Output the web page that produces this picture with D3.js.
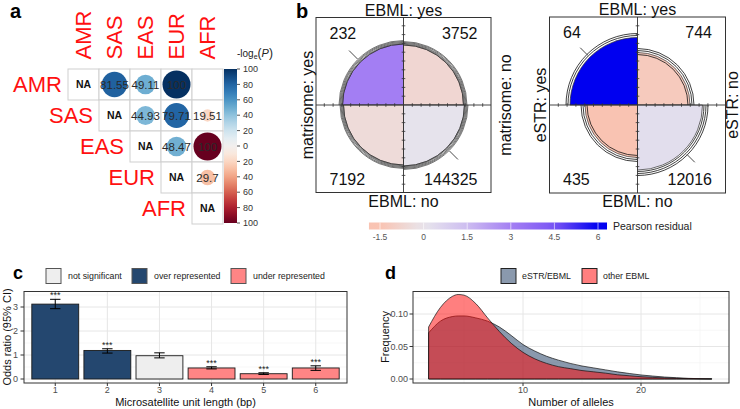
<!DOCTYPE html>
<html><head><meta charset="utf-8">
<script src="https://cdn.jsdelivr.net/npm/d3@7"></script>
<style>body{margin:0;background:#fff}svg{display:block;font-family:"Liberation Sans",Arial,sans-serif}</style>
</head><body><svg id="chart" width="740" height="409"></svg>
<script>
// ================= DATA =================
// panel a
const popLabels = ["AMR","SAS","EAS","EUR","AFR"];
const pairRow   = ["AMR","AMR","AMR","AMR","SAS","SAS","SAS","EAS","EAS","EUR"];
const pairCol   = ["SAS","EAS","EUR","AFR","EAS","EUR","AFR","EUR","AFR","AFR"];
const pairValue = [81.55, 49.11, 100, null, 44.93, 79.71, -19.51, 48.47, -100, -29.7]; // signed -log_e(P)
const corrTickValues = [100,80,60,40,20,0,-20,-40,-60,-80,-100];

// panel b (quadrant order: top-left, top-right, bottom-left, bottom-right)
const matrisomeCounts = [232, 3752, 7192, 144325];
const estrCounts      = [64, 744, 435, 12016];
const matrisomeStd    = [0.48, 0.465, 0.465, 0.48];
const estrStd         = [0.588, 0.356, 0.356, 0.546];
const matrisomeConf   = [[0.48,0.537],[0.465,0.52],[0.465,0.52],[0.48,0.537]];
const estrConf        = [[0.624,0.66],[0.329,0.384,0.412],[0.329,0.384,0.412],[0.571,0.606,0.642]];
const residualTicks   = [-1.5, 0, 1.5, 3, 4.5, 6];
const residualLegendLimits = [-1.88, 6.31];

// panel c
const unitLength = [1,2,3,4,5,6];
const oddsRatio  = [3.12, 1.19, 0.97, 0.46, 0.22, 0.46];
const ciLow      = [2.93, 1.08, 0.88, 0.42, 0.19, 0.36];
const ciHigh     = [3.32, 1.26, 1.09, 0.51, 0.26, 0.55];
const repStatus  = ["over represented","over represented","not significant","under represented","under represented","under represented"];
const sigStars   = ["***","***","","***","***","***"];
const statusLevels = ["not significant","over represented","under represented"];
const orTicks = [0,1,2,3];

// panel d
const alleleN   = [2,3,4,4.5,5,6,7,8,9,10,11,12,13,14,15,16,17,18,19,20,21,22,23,24,25,26];
const densEstr  = [0.071,0.089,0.096,0.097,0.097,0.094,0.089,0.080,0.067,0.053,0.043,0.035,0.029,0.024,0.020,0.017,0.014,0.011,0.0085,0.0062,0.0045,0.003,0.002,0.001,0.0005,0.0002];
const densOther = [0.080,0.110,0.127,0.130,0.129,0.116,0.094,0.073,0.055,0.041,0.031,0.024,0.019,0.016,0.013,0.011,0.009,0.0065,0.005,0.0035,0.0025,0.0017,0.001,0.0006,0.0003,0.0001];
const densSeries = ["eSTR/EBML","other EBML"];
const freqTicks = [0, 0.05, 0.10];
const alleleTicks = [10, 20];

// ================= DRAW =================
const svg = d3.select("#chart");
const TXT = "#222";

// panel letters
[["a",10,17.5,20],["b",296,17.5,20],["c",13,278.5,18],["d",385,278.5,18]].forEach(([t,x,y,s])=>{
  svg.append("text").attr("x",x).attr("y",y).attr("font-size",s).attr("font-weight","bold").attr("fill","#000").text(t);
});

// ---------- panel a ----------
(function(){
  const g = svg.append("g");
  const xA = d3.scaleBand().domain(popLabels).range([68, 223]);
  const yA = d3.scaleBand().domain(popLabels).range([69, 224]);
  const bw = xA.bandwidth();
  const col = v => d3.interpolateRdBu((v + 100) / 200);
  const rA = d3.scaleSqrt().domain([0, 100]).range([0, bw/2 - 1.5]);

  popLabels.forEach((rl, i) => popLabels.forEach((cl, j) => {
    if (j < i) return;
    g.append("rect").attr("x", xA(cl)).attr("y", yA(rl)).attr("width", bw).attr("height", bw)
      .attr("fill", "#fff").attr("stroke", "#cfcfcf").attr("stroke-width", 1);
    if (i === j) g.append("text").attr("x", xA(cl)+bw/2).attr("y", yA(rl)+bw/2).attr("dy","0.35em")
      .attr("text-anchor","middle").attr("font-size",10.5).attr("font-weight","bold").attr("fill","#111").text("NA");
  }));
  pairValue.forEach((v, k) => {
    if (v === null) return;
    const cx = xA(pairCol[k]) + bw/2, cy = yA(pairRow[k]) + bw/2;
    g.append("circle").attr("cx", cx).attr("cy", cy).attr("r", rA(Math.abs(v))).attr("fill", col(v));
    g.append("text").attr("x", cx).attr("y", cy).attr("dy","0.35em").attr("text-anchor","middle")
      .attr("font-size",11.5).attr("fill","#2a2a2a").text(String(Math.abs(v)));
  });
  popLabels.forEach(l => {
    g.append("text").attr("x", xA(l) - 6).attr("y", yA(l) + bw/2).attr("dy","0.35em").attr("text-anchor","end")
      .attr("font-size",22).attr("fill","#ff1010").text(l);
    g.append("text").attr("transform", `translate(${xA(l)+bw/2},59.5) rotate(-90)`).attr("dy","0.35em")
      .attr("font-size",22).attr("fill","#ff1010").text(l);
  });
  // colour bar
  const yCB = d3.scaleLinear().domain([100, -100]).range([69, 223]);
  const grad = svg.append("defs").append("linearGradient").attr("id","gradA").attr("x1",0).attr("y1",0).attr("x2",0).attr("y2",1);
  d3.range(0, 1.0001, 0.05).forEach(t => grad.append("stop").attr("offset", t).attr("stop-color", col(100 - 200*t)));
  g.append("rect").attr("x",224).attr("y",yCB(100)).attr("width",13).attr("height",yCB(-100)-yCB(100)).attr("fill","url(#gradA)");
  corrTickValues.forEach(v => {
    g.append("line").attr("x1",237).attr("x2",240).attr("y1",yCB(v)).attr("y2",yCB(v)).attr("stroke","#555");
    g.append("text").attr("x",243).attr("y",yCB(v)).attr("dy","0.35em").attr("font-size",9).attr("fill","#333").text(Math.abs(v));
  });
  const t = g.append("text").attr("x",237).attr("y",57).attr("font-size",10).attr("fill",TXT);
  t.append("tspan").text("-log");
  t.append("tspan").attr("font-size",7).attr("dy",2).text("e");
  t.append("tspan").attr("dy",-2).attr("font-size",12).text("(");
  t.append("tspan").attr("font-style","italic").attr("font-size",11).text("P");
  t.append("tspan").attr("font-size",12).text(")");
})();

// ---------- panel b ----------
const resDomain = [-1.5, 0, 1.5, 3, 4.5, 6];
const resColor = d3.scaleLinear().domain(resDomain)
  .range(["#f9c3b2","#e8e6ec","#cdbdf0","#a47ff3","#7a55f4","#0000f0"]).clamp(true);

function pearsonResiduals(c){
  const [a,b,cc,d] = c, n = a+b+cc+d;
  const rows = [a+b, cc+d], cols = [a+cc, b+d];
  const obs = [[a,b],[cc,d]];
  const out = [];
  [0,1].forEach(i => [0,1].forEach(j => { const e = rows[i]*cols[j]/n; out.push((obs[i][j]-e)/Math.sqrt(e)); }));
  return out;
}
function arcLine(r, a0, a1){ const p = d3.path(); p.arc(0,0,r,a0-Math.PI/2,a1-Math.PI/2); return p.toString(); }

function drawFourfold(cx, cy, half, counts, std, conf, banded, top, bottom, left, right, rightOff, diag){
  const g = svg.append("g");
  const gc = g.append("g").attr("transform", `translate(${cx},${cy})`);
  const rS = d3.scaleSqrt().domain([0,1]).range([0, 88]);
  const res = pearsonResiduals(counts);
  const ang = [[-Math.PI/2,0],[0,Math.PI/2],[Math.PI,1.5*Math.PI],[Math.PI/2,Math.PI]];
  counts.forEach((c,i) => {
    gc.append("path").attr("d", d3.arc()({innerRadius:0, outerRadius:rS(std[i]), startAngle:ang[i][0], endAngle:ang[i][1]}))
      .attr("fill", resColor(res[i])).attr("stroke","#333").attr("stroke-width",0.7);
  });
  conf.forEach((rr,i) => {
    if (banded){
      const lo = rS(rr[0]), hi = rS(rr[1]);
      d3.range(0,5).forEach(k => gc.append("path").attr("d", arcLine(lo + (hi-lo)*k/4, ang[i][0], ang[i][1]))
        .attr("fill","none").attr("stroke","#2e2e2e").attr("stroke-width",0.65));
    } else {
      rr.forEach(v => gc.append("path").attr("d", arcLine(rS(v), ang[i][0], ang[i][1]))
        .attr("fill","none").attr("stroke","#111").attr("stroke-width",0.8));
    }
  });
  // axes with ticks
  gc.append("line").attr("x1",-half).attr("x2",half).attr("y1",0).attr("y2",0).attr("stroke","#333").attr("stroke-width",0.9);
  gc.append("line").attr("y1",-half).attr("y2",half).attr("x1",0).attr("x2",0).attr("stroke","#333").attr("stroke-width",0.9);
  d3.range(1,10).forEach(k => {
    const d = k*8.8;
    [-d, d].forEach(p => {
      gc.append("line").attr("x1",p).attr("x2",p).attr("y1",-1.8).attr("y2",1.8).attr("stroke","#333").attr("stroke-width",0.8);
      gc.append("line").attr("y1",p).attr("y2",p).attr("x1",-1.8).attr("x2",1.8).attr("stroke","#333").attr("stroke-width",0.8);
    });
  });
  // diagonal marks
  [-1, 1].forEach(s => {
    const c = Math.SQRT1_2*s;
    gc.append("line").attr("x1",c*diag[0]).attr("y1",c*diag[0]).attr("x2",c*diag[1]).attr("y2",c*diag[1]).attr("stroke","#333").attr("stroke-width",0.9);
  });
  g.append("rect").attr("x",cx-half).attr("y",cy-half).attr("width",2*half).attr("height",2*half)
    .attr("fill","none").attr("stroke","#333").attr("stroke-width",1);
  const fs = 16;
  g.append("text").attr("x",cx-half+13.5).attr("y",cy-half+21).attr("font-size",fs).attr("fill","#111").text(counts[0]);
  g.append("text").attr("x",cx+half-13.5).attr("y",cy-half+21).attr("text-anchor","end").attr("font-size",fs).attr("fill","#111").text(counts[1]);
  g.append("text").attr("x",cx-half+13.5).attr("y",cy+half-8).attr("font-size",fs).attr("fill","#111").text(counts[2]);
  g.append("text").attr("x",cx+half-13.5).attr("y",cy+half-8).attr("text-anchor","end").attr("font-size",fs).attr("fill","#111").text(counts[3]);
  g.append("text").attr("x",cx).attr("y",cy-half-2).attr("text-anchor","middle").attr("font-size",fs).attr("fill","#111").text(top);
  g.append("text").attr("x",cx).attr("y",cy+half+14).attr("text-anchor","middle").attr("font-size",fs).attr("fill","#111").text(bottom);
  g.append("text").attr("transform",`translate(${cx-half-3.5},${cy}) rotate(-90)`).attr("text-anchor","middle").attr("font-size",fs).attr("fill","#111").text(left);
  g.append("text").attr("transform",`translate(${cx+half+rightOff},${cy}) rotate(-90)`).attr("text-anchor","middle").attr("font-size",fs).attr("fill","#111").text(right);
}
drawFourfold(403.5, 105, 87.5, matrisomeCounts, matrisomeStd, matrisomeConf, true,
  "EBML: yes","EBML: no","matrisome: yes","matrisome: no", 19.5, [65, 77]);
drawFourfold(637.5, 105, 88, estrCounts, estrStd, estrConf, false,
  "EBML: yes","EBML: no","eSTR: yes","eSTR: no", 12, [70, 81]);

// residual colour bar
(function(){
  const g = svg.append("g");
  const xR = d3.scaleLinear().domain([-1.5, 6]).range([380, 598]);
  const x0 = xR(residualLegendLimits[0]), x1 = xR(residualLegendLimits[1]);
  const grad = svg.select("defs").append("linearGradient").attr("id","gradR").attr("x1",0).attr("y1",0).attr("x2",1).attr("y2",0);
  d3.range(0,1.0001,0.05).forEach(t => {
    const v = residualLegendLimits[0] + t*(residualLegendLimits[1]-residualLegendLimits[0]);
    grad.append("stop").attr("offset",t).attr("stop-color",resColor(v));
  });
  g.append("rect").attr("x",x0).attr("y",222.5).attr("width",x1-x0).attr("height",7).attr("fill","url(#gradR)");
  residualTicks.forEach(v => {
    g.append("line").attr("x1",xR(v)).attr("x2",xR(v)).attr("y1",222.5).attr("y2",229.5).attr("stroke","#fff").attr("stroke-opacity",0.6);
    g.append("text").attr("x",xR(v)).attr("y",240).attr("text-anchor","middle").attr("font-size",8.5).attr("fill","#555").text(v);
  });
  g.append("text").attr("x",613).attr("y",229.5).attr("font-size",10.5).attr("fill",TXT).text("Pearson residual");
})();

// ---------- panel c ----------
(function(){
  const g = svg.append("g");
  const statusFill = d3.scaleOrdinal().domain(statusLevels).range(["#eeeeee","#24476f","#ff8585"]);
  const x = d3.scaleLinear().domain([0.4, 6.6]).range([24, 347]);
  const y = d3.scaleLinear().domain([0, 3]).range([379, 307]);
  const top = 291.5, bot = 383;
  const step = x(2) - x(1);
  // grid
  d3.range(0.5, 4, 1).forEach(v => g.append("line").attr("x1",24).attr("x2",347).attr("y1",y(v)).attr("y2",y(v)).attr("stroke","#f2f2f2").attr("stroke-width",0.6));
  orTicks.forEach(v => g.append("line").attr("x1",24).attr("x2",347).attr("y1",y(v)).attr("y2",y(v)).attr("stroke","#e6e6e6").attr("stroke-width",1));
  unitLength.forEach(v => g.append("line").attr("x1",x(v)).attr("x2",x(v)).attr("y1",top).attr("y2",bot).attr("stroke","#e6e6e6").attr("stroke-width",1));
  // bars
  unitLength.forEach((u,i) => {
    g.append("rect").attr("x",x(u)-0.45*step).attr("width",0.9*step).attr("y",y(oddsRatio[i])).attr("height",y(0)-y(oddsRatio[i]))
      .attr("fill",statusFill(repStatus[i])).attr("stroke","#1a1a1a").attr("stroke-width",0.9);
    const cw = 0.1*step;
    g.append("line").attr("x1",x(u)).attr("x2",x(u)).attr("y1",y(ciLow[i])).attr("y2",y(ciHigh[i])).attr("stroke","#000").attr("stroke-width",1);
    [ciLow[i], ciHigh[i]].forEach(v => g.append("line").attr("x1",x(u)-cw).attr("x2",x(u)+cw).attr("y1",y(v)).attr("y2",y(v)).attr("stroke","#000").attr("stroke-width",1));
    if (sigStars[i]) g.append("text").attr("x",x(u)).attr("y",y(ciHigh[i])-1).attr("text-anchor","middle").attr("font-size",9).attr("fill","#222").text(sigStars[i]);
  });
  g.append("rect").attr("x",24).attr("y",top).attr("width",323).attr("height",bot-top).attr("fill","none").attr("stroke","#333").attr("stroke-width",1);
  orTicks.forEach(v => {
    g.append("line").attr("x1",20.5).attr("x2",24).attr("y1",y(v)).attr("y2",y(v)).attr("stroke","#333");
    g.append("text").attr("x",18).attr("y",y(v)).attr("dy","0.35em").attr("text-anchor","end").attr("font-size",9).attr("fill","#4d4d4d").text(v);
  });
  unitLength.forEach(v => {
    g.append("line").attr("x1",x(v)).attr("x2",x(v)).attr("y1",bot).attr("y2",bot+3).attr("stroke","#333");
    g.append("text").attr("x",x(v)).attr("y",393).attr("text-anchor","middle").attr("font-size",9).attr("fill","#4d4d4d").text(v);
  });
  g.append("text").attr("x",185.5).attr("y",405.5).attr("text-anchor","middle").attr("font-size",11).attr("fill","#111").text("Microsatellite unit length (bp)");
  g.append("text").attr("transform","translate(10.5,337) rotate(-90)").attr("text-anchor","middle").attr("font-size",11).attr("fill","#111").text("Odds ratio (95% CI)");
  // legend
  const lx = [46, 132, 231];
  statusLevels.forEach((s,i) => {
    g.append("rect").attr("x",lx[i]).attr("y",268.5).attr("width",15).attr("height",15).attr("fill",statusFill(s)).attr("stroke","#555").attr("stroke-width",1);
    g.append("text").attr("x",lx[i]+22).attr("y",276).attr("dy","0.35em").attr("font-size",8.8).attr("fill","#222").text(s);
  });
})();

// ---------- panel d ----------
(function(){
  const g = svg.append("g");
  const x = d3.scaleLinear().domain([10, 20]).range([523, 641]);
  const y = d3.scaleLinear().domain([0, 0.1]).range([379, 314]);
  const L = 413, R = 729, top = 291.5, bot = 383;
  [5,15,25].forEach(v => g.append("line").attr("x1",x(v)).attr("x2",x(v)).attr("y1",top).attr("y2",bot).attr("stroke","#f2f2f2").attr("stroke-width",0.6));
  [0.025,0.075,0.125].forEach(v => g.append("line").attr("x1",L).attr("x2",R).attr("y1",y(v)).attr("y2",y(v)).attr("stroke","#f2f2f2").attr("stroke-width",0.6));
  alleleTicks.forEach(v => g.append("line").attr("x1",x(v)).attr("x2",x(v)).attr("y1",top).attr("y2",bot).attr("stroke","#e6e6e6").attr("stroke-width",1));
  freqTicks.forEach(v => g.append("line").attr("x1",L).attr("x2",R).attr("y1",y(v)).attr("y2",y(v)).attr("stroke","#e6e6e6").attr("stroke-width",1));
  const fills = ["#16345c","#ff0000"];
  const area = d3.area().x(d => x(d[0])).y0(y(0)).y1(d => y(d[1])).curve(d3.curveMonotoneX);
  [densEstr, densOther].forEach((dens, k) => {
    g.append("path").attr("d", area(alleleN.map((n,i) => [n, dens[i]])) + "Z")
      .attr("fill", fills[k]).attr("fill-opacity",0.5).attr("stroke","#111").attr("stroke-width",0.7);
  });
  g.append("rect").attr("x",L).attr("y",top).attr("width",R-L).attr("height",bot-top).attr("fill","none").attr("stroke","#333").attr("stroke-width",1);
  freqTicks.forEach(v => {
    g.append("line").attr("x1",L-3.5).attr("x2",L).attr("y1",y(v)).attr("y2",y(v)).attr("stroke","#333");
    g.append("text").attr("x",L-5).attr("y",y(v)).attr("dy","0.35em").attr("text-anchor","end").attr("font-size",9).attr("fill","#4d4d4d").text(d3.format(".2f")(v));
  });
  alleleTicks.forEach(v => {
    g.append("line").attr("x1",x(v)).attr("x2",x(v)).attr("y1",bot).attr("y2",bot+3).attr("stroke","#333");
    g.append("text").attr("x",x(v)).attr("y",393).attr("text-anchor","middle").attr("font-size",9).attr("fill","#4d4d4d").text(v);
  });
  g.append("text").attr("x",571).attr("y",405.5).attr("text-anchor","middle").attr("font-size",11).attr("fill","#111").text("Number of alleles");
  g.append("text").attr("transform","translate(389,337) rotate(-90)").attr("text-anchor","middle").attr("font-size",11).attr("fill","#111").text("Frequency");
  const lx = [501, 582];
  densSeries.forEach((s,i) => {
    g.append("rect").attr("x",lx[i]).attr("y",268.5).attr("width",15).attr("height",15).attr("fill","#fff");
    g.append("rect").attr("x",lx[i]).attr("y",268.5).attr("width",15).attr("height",15).attr("fill",fills[i]).attr("fill-opacity",0.5).attr("stroke","#222").attr("stroke-width",1);
    g.append("text").attr("x",lx[i]+21).attr("y",276).attr("dy","0.35em").attr("font-size",8.8).attr("fill","#222").text(s);
  });
})();
</script>
</body></html>
